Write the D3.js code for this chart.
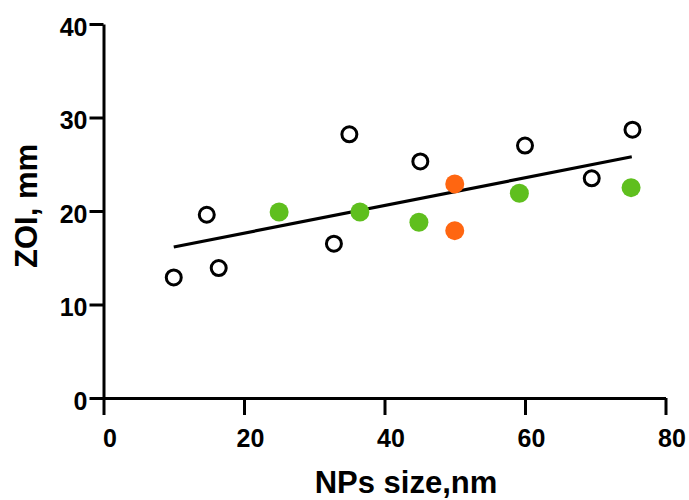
<!DOCTYPE html>
<html lang="en">
<head>
    <meta charset="UTF-8">
    <title>ZOI vs NPs size</title>
    <script src="https://d3js.org/d3.v7.min.js"></script>
    <style>
        body { margin: 0; background: #fff; font-family: "Liberation Sans", Arial, sans-serif; }
        .axis path, .axis line { stroke: #000; stroke-width: 3px; }
        .axis text { font-size: 25px; font-weight: bold; fill: #000; }
        .axis-label { font-size: 31px; font-weight: bold; }
    </style>
</head>
<body>
    <svg id="chart" width="689" height="500"></svg>

    <script>
        // open circles
        const openX = [10, 14.7, 16.4, 32.8, 35, 45.1, 60, 69.5, 75.3];
        const openY = [12.9, 19.6, 13.9, 16.5, 28.2, 25.3, 27, 23.5, 28.7];
        // green filled
        const greenX = [25, 36.5, 44.9, 59.2, 75.1];
        const greenY = [19.9, 19.9, 18.8, 21.9, 22.5];
        // orange filled
        const orangeX = [50, 50];
        const orangeY = [22.9, 17.9];
        // fitted line end points
        const fitX = [10, 75.2];
        const fitY = [16.15, 25.8];

        const xTicks = [0, 20, 40, 60, 80];
        const yTicks = [0, 10, 20, 30, 40];

        const svg = d3.select("#chart");

        const x = d3.scaleLinear().domain([0, 80]).range([103.5, 665.5]);
        const y = d3.scaleLinear().domain([0, 40]).range([398, 24]);

        const xAxis = svg.append("g")
            .attr("class", "axis")
            .attr("transform", "translate(0,398)")
            .call(d3.axisBottom(x).tickValues(xTicks).tickSize(17).tickSizeOuter(0));
        xAxis.selectAll("text").attr("y", 31).attr("dx", 6);

        const yAxis = svg.append("g")
            .attr("class", "axis")
            .attr("transform", "translate(103.5,0)")
            .call(d3.axisLeft(y).tickValues(yTicks).tickSize(14).tickSizeOuter(0));
        yAxis.selectAll("text").attr("x", -16).attr("dy", "0.45em");

        svg.append("text")
            .attr("class", "axis-label")
            .attr("x", 406)
            .attr("y", 493)
            .attr("text-anchor", "middle")
            .text("NPs size,nm");

        svg.append("text")
            .attr("class", "axis-label")
            .attr("transform", "translate(37,206) rotate(-90)")
            .attr("text-anchor", "middle")
            .text("ZOI, mm");

        // fit line
        const fit = fitX.map((v, i) => [v, fitY[i]]);
        svg.append("path")
            .datum(fit)
            .attr("fill", "none")
            .attr("stroke", "#000")
            .attr("stroke-width", 3.2)
            .attr("d", d3.line().x(d => x(d[0])).y(d => y(d[1])));

        svg.selectAll(".open")
            .data(openX.map((v, i) => [v, openY[i]]))
            .enter().append("circle")
            .attr("class", "open")
            .attr("cx", d => x(d[0]))
            .attr("cy", d => y(d[1]))
            .attr("r", 7.5)
            .attr("fill", "#fff")
            .attr("stroke", "#000")
            .attr("stroke-width", 3);

        svg.selectAll(".green")
            .data(greenX.map((v, i) => [v, greenY[i]]))
            .enter().append("circle")
            .attr("class", "green")
            .attr("cx", d => x(d[0]))
            .attr("cy", d => y(d[1]))
            .attr("r", 9.5)
            .attr("fill", "#5fbf1e");

        svg.selectAll(".orange")
            .data(orangeX.map((v, i) => [v, orangeY[i]]))
            .enter().append("circle")
            .attr("class", "orange")
            .attr("cx", d => x(d[0]))
            .attr("cy", d => y(d[1]))
            .attr("r", 9.5)
            .attr("fill", "#ff6611");
    </script>
</body>
</html>
